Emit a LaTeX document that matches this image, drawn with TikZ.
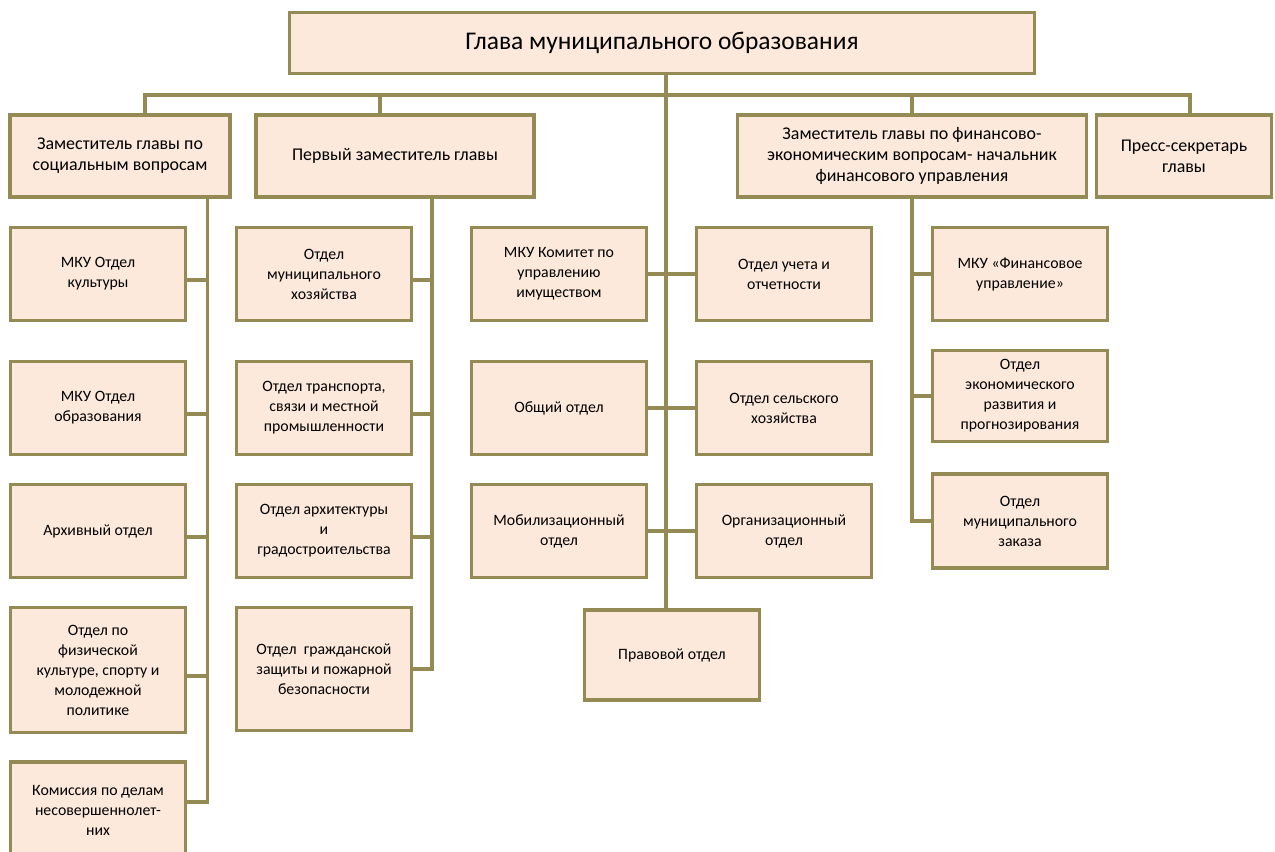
\documentclass[tikz,border=0pt]{standalone}
\usepackage{fontspec}
\setmainfont{Carlito}
\definecolor{boxfill}{RGB}{252,233,219}
\definecolor{boxline}{RGB}{148,138,84}

\begin{document}
\begin{tikzpicture}[x=0.02cm, y=-0.02cm,
    unit/.style={rectangle, draw=boxline, fill=boxfill, line width=2pt,
                 minimum width=3.5cm, minimum height=1.86cm, inner sep=2pt,
                 align=center, font=\fontsize{9}{11.4}\selectfont},
    deputy/.style={unit, minimum height=1.64cm, font=\fontsize{10.2}{12}\selectfont},
    link/.style={draw=boxline, line width=2pt}
]
\useasboundingbox (0,0) rectangle (1275,852);

% Глава
\node[unit, minimum width=14.9cm, minimum height=1.22cm,
      font=\fontsize{14.5}{16}\selectfont] at (662,43) (glava) {Глава муниципального образования};

% Заместители
\node[deputy, minimum width=4.4cm] at (120,156) (zamsoc) {Заместитель главы по\\социальным вопросам};
\node[deputy, minimum width=5.56cm] at (395,156) (perv) {Первый заместитель главы};
\node[deputy, minimum width=6.98cm] at (912,156) (zamfin) {Заместитель главы по финансово-\\экономическим вопросам- начальник\\финансового управления};
\node[deputy, minimum width=3.5cm] at (1184,156) (press) {Пресс-секретарь\\главы};

% Социальный блок
\node[unit] at (98,274) (kult) {МКУ Отдел\\культуры};
\node[unit] at (98,408) (obr) {МКУ Отдел\\образования};
\node[unit] at (98,531) (arhiv) {Архивный отдел};
\node[unit, minimum height=2.5cm] at (98,670) (sport) {Отдел по\\физической\\культуре, спорту и\\молодежной\\политике};
\node[unit, minimum height=1.92cm] at (98,810) (kdn) {Комиссия по делам\\несовершеннолет-\\них};

% Блок первого заместителя
\node[unit] at (324,274) (muhoz) {Отдел\\муниципального\\хозяйства};
\node[unit] at (324,408) (transp) {Отдел транспорта,\\связи и местной\\промышленности};
\node[unit] at (324,531) (arhit) {Отдел архитектуры\\и\\градостроительства};
\node[unit, minimum height=2.46cm] at (324,669) (gochs) {Отдел\ \ гражданской\\защиты и пожарной\\безопасности};

% Отделы при главе
\node[unit] at (559,274) (kui) {МКУ Комитет по\\управлению\\имуществом};
\node[unit] at (784,274) (uchet) {Отдел учета и\\отчетности};
\node[unit] at (559,408) (obsh) {Общий отдел};
\node[unit] at (784,408) (selhoz) {Отдел сельского\\хозяйства};
\node[unit] at (559,531) (mob) {Мобилизационный\\отдел};
\node[unit] at (784,531) (org) {Организационный\\отдел};
\node[unit, minimum height=1.8cm] at (672,655) (prav) {Правовой отдел};

% Финансовый блок
\node[unit] at (1020,274) (finupr) {МКУ «Финансовое\\управление»};
\node[unit, minimum height=1.82cm] at (1020,396) (econ) {Отдел\\экономического\\развития и\\прогнозирования};
\node[unit, minimum height=1.88cm] at (1020,521) (zakaz) {Отдел\\муниципального\\заказа};

% Связи
\coordinate (bus) at (666,95);
\draw[link] (glava.south -| bus) -- (bus);
\draw[link] (bus) -| ([xshift=0.5cm]zamsoc.north);
\draw[link] (bus) -| ([xshift=-0.3cm]perv.north);
\draw[link] (bus) -| (zamfin.north);
\draw[link] (bus) -| ([xshift=0.12cm]press.north);
\draw[link] (bus) -- (prav.north -| bus);

\coordinate (soc) at ([xshift=-0.48cm]zamsoc.south east);
\draw[link] (soc) |- ([yshift=0.16cm]kdn.east);
\foreach \n in {kult,obr,arhiv,sport} {
    \draw[link] ([yshift=-0.12cm]\n.east) -- ([yshift=-0.12cm]\n.east -| soc);
}

\coordinate (pz) at ([xshift=0.74cm]perv.south);
\draw[link] (pz) |- (gochs.east);
\foreach \n in {muhoz,transp,arhit} {
    \draw[link] ([yshift=-0.12cm]\n.east) -- ([yshift=-0.12cm]\n.east -| pz);
}

\foreach \a/\b in {kui/uchet,obsh/selhoz,mob/org} {
    \draw[link] (\a.east) -- (\b.west);
}

\draw[link] (zamfin.south) |- (zakaz.west);
\foreach \n in {finupr,econ} {
    \draw[link] (\n.west) -- (\n.west -| zamfin.south);
}

\end{tikzpicture}
\end{document}
